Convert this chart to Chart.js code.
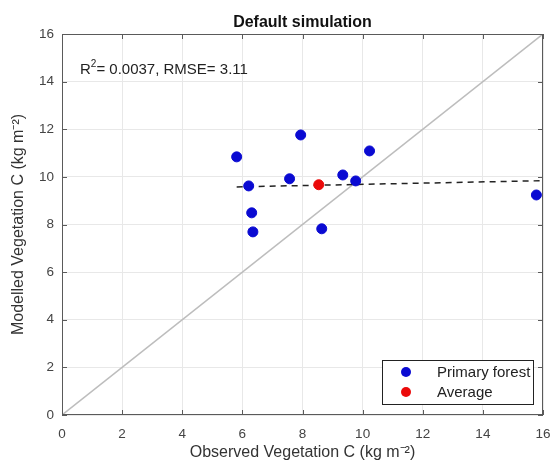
<!DOCTYPE html>
<html>
<head>
<meta charset="utf-8">
<script src="https://cdn.jsdelivr.net/npm/chart.js@4.4.1/dist/chart.umd.min.js"></script>
<style>
  html, body { margin: 0; padding: 0; background: #fff; }
  #wrap { width: 553px; height: 469px; }
</style>
</head>
<body>
<div id="wrap"><canvas id="c" width="553" height="469"></canvas></div>
<script>
// Observed vs modelled vegetation carbon (kg m-2), primary forest sites
const observedC = [5.81, 6.21, 6.31, 6.35, 7.57, 7.94, 8.64, 9.34, 9.77, 10.23, 15.78];
const modelledC = [10.84, 9.62, 8.49, 7.69, 9.92, 11.76, 7.82, 10.08, 9.83, 11.09, 9.24];
const averageObs = [8.54];
const averageMod = [9.67];
// regression line end points and 1:1 reference line
const fitX = [5.81, 16];
const fitY = [9.58, 9.84];
const oneToOneX = [0, 16];
const oneToOneY = [0, 16];
const axisTicks = [0, 2, 4, 6, 8, 10, 12, 14, 16];
const statsLabel = { r2: '0.0037', rmse: '3.11' };

const FONT = '"Liberation Sans", Arial, sans-serif';
const toPts = (xs, ys) => xs.map((x, i) => ({ x: x, y: ys[i] }));

const boxPlugin = {
  id: 'matlabBox',
  afterDatasetsDraw(chart) {
    const { ctx, chartArea: a, scales } = chart;
    ctx.save();
    // frame
    ctx.strokeStyle = '#5a5a5a';
    ctx.lineWidth = 1;
    ctx.strokeRect(a.left + 0.5, a.top + 0.5, a.right - a.left - 1, a.bottom - a.top - 1);
    // inward ticks on all four sides
    const tl = 5;
    ctx.beginPath();
    axisTicks.forEach(v => {
      const px = Math.round(scales.x.getPixelForValue(v)) + 0.5;
      ctx.moveTo(px, a.bottom); ctx.lineTo(px, a.bottom - tl);
      ctx.moveTo(px, a.top); ctx.lineTo(px, a.top + tl);
      const py = Math.round(scales.y.getPixelForValue(v)) + 0.5;
      ctx.moveTo(a.left, py); ctx.lineTo(a.left + tl, py);
      ctx.moveTo(a.right, py); ctx.lineTo(a.right - tl, py);
    });
    ctx.stroke();

    // title
    ctx.fillStyle = '#111';
    ctx.font = 'bold 16px ' + FONT;
    ctx.textAlign = 'center';
    ctx.textBaseline = 'alphabetic';
    ctx.fillText('Default simulation', (a.left + a.right) / 2, a.top - 7);

    // statistics annotation
    ctx.textAlign = 'left';
    ctx.font = '15px ' + FONT;
    ctx.fillStyle = '#222';
    let x = a.left + 18, y = a.top + 40;
    ctx.fillText('R', x, y);
    x += ctx.measureText('R').width;
    ctx.font = '10px ' + FONT;
    ctx.fillText('2', x, y - 7);
    x += ctx.measureText('2').width;
    ctx.font = '15px ' + FONT;
    ctx.fillText('= ' + statsLabel.r2 + ', RMSE= ' + statsLabel.rmse, x, y);

    // legend box
    const lx = 382, ly = 360, lw = 151, lh = 44;
    ctx.fillStyle = '#fff';
    ctx.fillRect(lx, ly, lw, lh);
    ctx.strokeStyle = '#222';
    ctx.strokeRect(lx + 0.5, ly + 0.5, lw, lh);
    const items = chart.data.datasets.filter(d => d.inLegend);
    items.forEach((d, i) => {
      const cy = ly + 12 + i * 20;
      ctx.beginPath();
      ctx.fillStyle = d.backgroundColor;
      ctx.arc(lx + 24, cy, 5, 0, Math.PI * 2);
      ctx.fill();
      ctx.fillStyle = '#222';
      ctx.font = '15px ' + FONT;
      ctx.textBaseline = 'middle';
      ctx.fillText(d.label, lx + 55, cy + 1);
    });
    ctx.restore();
  }
};

new Chart(document.getElementById('c'), {
  type: 'scatter',
  data: {
    datasets: [
      {
        label: 'Primary forest', inLegend: true,
        data: toPts(observedC, modelledC),
        backgroundColor: 'rgb(10,10,210)', borderColor: 'rgb(10,10,210)',
        pointRadius: 5, pointHoverRadius: 5, order: 1
      },
      {
        label: 'Average', inLegend: true,
        data: toPts(averageObs, averageMod),
        backgroundColor: 'rgb(235,10,10)', borderColor: 'rgb(235,10,10)',
        pointRadius: 5, pointHoverRadius: 5, order: 0
      },
      {
        label: 'fit', data: toPts(fitX, fitY), showLine: true,
        borderColor: '#222', borderWidth: 1.5, borderDash: [6, 5],
        pointRadius: 0, order: 2
      },
      {
        label: '1:1', data: toPts(oneToOneX, oneToOneY), showLine: true,
        borderColor: '#bdbdbd', borderWidth: 1.5,
        pointRadius: 0, order: 3
      }
    ]
  },
  options: {
    responsive: false,
    animation: false,
    events: [],
    layout: { padding: { top: 34, right: 10, left: 0, bottom: 0 } },
    plugins: { legend: { display: false }, tooltip: { enabled: false }, title: { display: false } },
    scales: {
      x: {
        type: 'linear', min: 0, max: 16,
        afterBuildTicks: s => { s.ticks = axisTicks.map(v => ({ value: v })); },
        afterFit: s => { s.height = 54; s.paddingLeft = 0; s.paddingRight = 0; },
        grid: { color: '#e8e8e8', drawTicks: false },
        border: { display: false },
        ticks: { color: '#444', font: { family: FONT, size: 13.5 }, padding: 11, maxRotation: 0 },
        title: { display: true, text: 'Observed Vegetation C (kg m\u207B\u00B2)', color: '#333',
                 font: { family: FONT, size: 16 }, padding: { top: 2, bottom: 7 } }
      },
      y: {
        type: 'linear', min: 0, max: 16,
        afterBuildTicks: s => { s.ticks = axisTicks.map(v => ({ value: v })); },
        afterFit: s => { s.width = 62; s.paddingTop = 0; s.paddingBottom = 0; },
        grid: { color: '#e8e8e8', drawTicks: false },
        border: { display: false },
        ticks: { color: '#444', font: { family: FONT, size: 13.5 }, padding: 8 },
        title: { display: true, text: 'Modelled Vegetation C (kg m\u207B\u00B2)', color: '#333',
                 font: { family: FONT, size: 16 }, padding: { top: 9, bottom: 0 } }
      }
    }
  },
  plugins: [boxPlugin]
});
</script>
</body>
</html>
